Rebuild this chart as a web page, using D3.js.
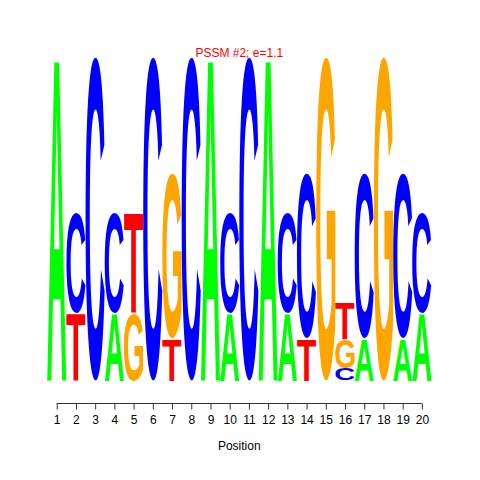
<!DOCTYPE html>
<html>
<head>
<meta charset="utf-8">
<script src="https://cdn.jsdelivr.net/npm/d3@7"></script>
<style>
  body { margin: 0; background: #fff; }
  svg { display: block; font-family: "Liberation Sans", Arial, sans-serif; }
</style>
</head>
<body>
<svg id="logo" width="480" height="480"></svg>
<script>
// letter heights in bits (one value per position)
const positions = d3.range(1, 21);
const heightA = [2.0, 0, 0, 0.415, 0, 0, 0, 0, 2.0, 0.415, 0, 2.0, 0.415, 0, 0, 0, 0.26, 0, 0.26, 0.415];
const heightC = [0, 0.62, 2.0, 0.62, 0, 2.0, 0, 2.0, 0, 0.62, 2.0, 0, 0.62, 1.02, 0, 0.074, 1.02, 0, 1.02, 0.62];
const heightG = [0, 0, 0, 0, 0.415, 0, 1.02, 0, 0, 0, 0, 0, 0, 0, 2.0, 0.18, 0, 2.0, 0, 0];
const heightT = [0, 0.415, 0, 0, 0.62, 0, 0.26, 0, 0, 0, 0, 0, 0, 0.26, 0, 0.223, 0, 0, 0, 0];
const title = "PSSM #2; e=1.1";

const colors = { A: "#00ff00", C: "#0000ff", G: "#ffa500", T: "#ff0000" };
const letterFont = "bold 100px 'Liberation Sans'";

const svg = d3.select("#logo");

const x = d3.scaleLinear().domain([0.5, 20.5]).range([47.1, 431.5]);
const y = d3.scaleLinear().domain([0, 2]).range([380.5, 57]);

// ink bounds of each glyph, so a letter can be stretched to fill its box
const ctx = document.createElement("canvas").getContext("2d");
ctx.font = letterFont;
const ink = {};
for (const l of "ACGT") {
  const m = ctx.measureText(l);
  ink[l] = {
    left: m.actualBoundingBoxLeft,
    ascent: m.actualBoundingBoxAscent,
    w: m.actualBoundingBoxLeft + m.actualBoundingBoxRight,
    h: m.actualBoundingBoxAscent + m.actualBoundingBoxDescent
  };
}

const stacks = positions.map((p, i) => {
  const col = [
    { l: "A", v: heightA[i] },
    { l: "C", v: heightC[i] },
    { l: "G", v: heightG[i] },
    { l: "T", v: heightT[i] }
  ].filter(d => d.v > 0).sort((a, b) => a.v - b.v);
  let acc = 0;
  col.forEach(d => { d.y0 = acc; acc += d.v; d.y1 = acc; d.pos = p; });
  return col;
});

svg.append("g")
  .selectAll("text")
  .data(stacks.flat())
  .join("text")
  .attr("font-family", "'Liberation Sans'")
  .attr("font-weight", "bold")
  .attr("font-size", 100)
  .attr("fill", d => colors[d.l])
  .attr("transform", d => {
    const g = ink[d.l];
    const x0 = x(d.pos - 0.5), x1 = x(d.pos + 0.5);
    const top = y(d.y1), bot = y(d.y0);
    return `translate(${x0},${top}) scale(${(x1 - x0) / g.w},${(bot - top) / g.h}) translate(${g.left},${g.ascent})`;
  })
  .text(d => d.l);

// x axis, R style: line runs from first to last tick
const axis = svg.append("g")
  .attr("transform", "translate(0,403.5)")
  .call(d3.axisBottom(x).tickValues(positions).tickSize(6).tickPadding(6));
axis.select(".domain").attr("d", `M${x(1)},0H${x(20)}`).attr("stroke", "#333");
axis.selectAll(".tick line").attr("stroke", "#333");
axis.selectAll(".tick text")
  .attr("font-family", "'Liberation Sans'")
  .attr("font-size", 12)
  .attr("fill", "#000");

svg.append("text")
  .attr("x", 239.3)
  .attr("y", 450)
  .attr("text-anchor", "middle")
  .attr("font-size", 12)
  .text("Position");

svg.append("text")
  .attr("x", 239.3)
  .attr("y", 57)
  .attr("text-anchor", "middle")
  .attr("font-size", 12)
  .attr("fill", "#ff0000")
  .text(title);
</script>
</body>
</html>
